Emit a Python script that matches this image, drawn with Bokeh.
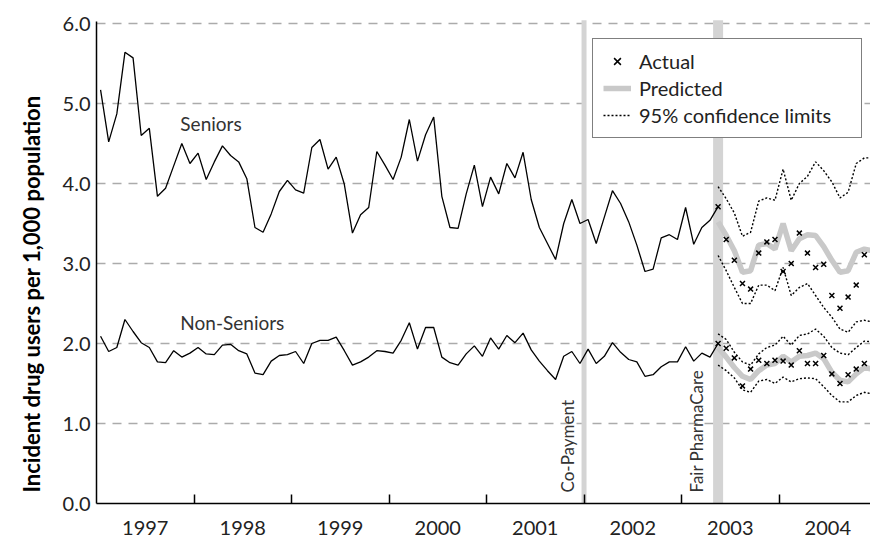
import math
from bokeh.plotting import figure
from bokeh.models import (FixedTicker, PrintfTickFormatter, Legend, LegendItem,
                          Range1d, Label, Title)
from bokeh.embed import file_html
from bokeh.resources import INLINE

FONT = "Lato"

# ---------------- data ----------------
start_year = 1997
year_labels = ["1997", "1998", "1999", "2000", "2001", "2002", "2003", "2004"]

# monthly incident users per 1,000 (Jan 1997 .. May 2003)
seniors = [5.17, 4.52, 4.87, 5.64, 5.57, 4.60, 4.69, 3.84, 3.94, 4.22,
           4.50, 4.25, 4.38, 4.05, 4.27, 4.47, 4.35, 4.27, 4.06, 3.45,
           3.39, 3.62, 3.90, 4.04, 3.92, 3.88, 4.45, 4.55, 4.18, 4.33,
           3.99, 3.38, 3.61, 3.70, 4.40, 4.23, 4.05, 4.33, 4.80, 4.28,
           4.61, 4.83, 3.84, 3.45, 3.44, 3.87, 4.23, 3.71, 4.08, 3.87,
           4.25, 4.07, 4.39, 3.80, 3.45, 3.25, 3.05, 3.50, 3.80, 3.50,
           3.55, 3.25, 3.58, 3.91, 3.75, 3.52, 3.23, 2.90, 2.93, 3.32,
           3.36, 3.30, 3.70, 3.24, 3.45, 3.54, 3.71]
non_seniors = [2.09, 1.90, 1.95, 2.30, 2.15, 2.01, 1.95, 1.77, 1.76, 1.91,
               1.83, 1.88, 1.95, 1.87, 1.86, 1.98, 1.99, 1.91, 1.87, 1.63,
               1.61, 1.78, 1.85, 1.86, 1.90, 1.75, 2.00, 2.04, 2.04, 2.08,
               1.91, 1.73, 1.77, 1.83, 1.91, 1.90, 1.88, 2.04, 2.26, 1.93,
               2.20, 2.20, 1.83, 1.76, 1.73, 1.87, 1.97, 1.84, 2.07, 1.93,
               2.10, 2.01, 2.13, 1.92, 1.78, 1.66, 1.55, 1.84, 1.90, 1.75,
               1.93, 1.75, 1.84, 2.01, 1.89, 1.80, 1.77, 1.59, 1.61, 1.71,
               1.77, 1.77, 1.96, 1.78, 1.88, 1.83, 2.00]

# forecast period starts at month index 76 (May 2003)
forecast_start = 76
sen_actual = [3.71, 3.30, 3.04, 2.75, 2.68, 3.13, 3.27, 3.30, 2.90, 3.00,
              3.38, 3.13, 2.95, 2.99, 2.60, 2.44, 2.58, 2.73, 3.11]
sen_pred = [3.52, 3.35, 3.16, 2.89, 2.91, 3.23, 3.25, 3.18, 3.50, 3.16,
            3.31, 3.36, 3.35, 3.21, 3.04, 2.89, 2.91, 3.14, 3.18, 3.16]
sen_upper = [3.96, 3.81, 3.63, 3.34, 3.39, 3.78, 3.82, 3.79, 4.18, 3.79,
             4.00, 4.09, 4.27, 4.16, 4.02, 3.82, 3.89, 4.25, 4.32, 4.32]
sen_lower = [3.10, 2.91, 2.70, 2.50, 2.50, 2.73, 2.73, 2.66, 2.95, 2.60,
             2.70, 2.75, 2.60, 2.45, 2.33, 2.18, 2.14, 2.27, 2.29, 2.27]

non_actual = [2.00, 1.94, 1.82, 1.47, 1.68, 1.79, 1.75, 1.79, 1.78, 1.73,
              1.91, 1.75, 1.75, 1.85, 1.62, 1.50, 1.61, 1.68, 1.75]
non_pred = [1.95, 1.83, 1.70, 1.59, 1.55, 1.66, 1.73, 1.75, 1.84, 1.77,
            1.84, 1.85, 1.88, 1.81, 1.64, 1.54, 1.52, 1.62, 1.70, 1.68]
non_upper = [2.12, 2.05, 1.89, 1.77, 1.73, 1.87, 1.95, 1.98, 2.09, 1.98,
             2.10, 2.12, 2.18, 2.09, 1.95, 1.88, 1.86, 1.95, 2.03, 2.02]
non_lower = [1.73, 1.66, 1.57, 1.42, 1.39, 1.53, 1.55, 1.50, 1.58, 1.52,
             1.56, 1.57, 1.56, 1.46, 1.35, 1.27, 1.27, 1.35, 1.39, 1.37]

event_names = ["Co-Payment", "Fair PharmaCare"]
event_dates = [2002.0, 2003.375]

y_ticks = [0, 1, 2, 3, 4, 5, 6]
y_title = "Incident drug users per 1,000 population"


def months_x(first, n):
    return [start_year + (first + k + 0.5) / 12.0 for k in range(n)]


# ---------------- figure ----------------
p = figure(width=870, height=542, output_backend="svg", toolbar_location=None,
           x_range=Range1d(1997.0, 2004.938), y_range=Range1d(0, 6.2875),
           min_border_left=96, min_border_right=0, min_border_top=0,
           min_border_bottom=39)
p.outline_line_color = None
p.background_fill_color = "white"
p.xgrid.visible = False
p.ygrid.ticker = FixedTicker(ticks=y_ticks)
p.ygrid.grid_line_color = "#ababab"
p.ygrid.grid_line_width = 1.5
p.ygrid.grid_line_dash = "9 7"

# event bars
p.segment(x0=[event_dates[0]], y0=[0], x1=[event_dates[0]], y1=[6.04],
          line_color="#d4d4d4", line_width=5)
p.segment(x0=[event_dates[1]], y0=[0], x1=[event_dates[1]], y1=[6.04],
          line_color="#d4d4d4", line_width=10)

# history lines
p.line(months_x(0, len(seniors)), seniors, line_color="black", line_width=1.3)
p.line(months_x(0, len(non_seniors)), non_seniors, line_color="black", line_width=1.3)

# predicted
xf = months_x(forecast_start, len(sen_pred))
r_pred = p.line(xf, sen_pred, line_color="#c9c9c9", line_width=5.5)
p.line(xf, non_pred, line_color="#c9c9c9", line_width=5.5)

# confidence limits
r_ci = p.line(xf, sen_upper, line_color="black", line_width=1.4, line_dash="2 2")
p.line(xf, sen_lower, line_color="black", line_width=1.4, line_dash="2 2")
p.line(xf, non_upper, line_color="black", line_width=1.4, line_dash="2 2")
p.line(xf, non_lower, line_color="black", line_width=1.4, line_dash="2 2")

# actual
xa = months_x(forecast_start, len(sen_actual))
r_act = p.scatter(xa, sen_actual, marker="x", size=7, line_color="black", line_width=1.5)
p.scatter(xa, non_actual, marker="x", size=7, line_color="black", line_width=1.5)

# text labels
p.add_layout(Label(x=1997.86, y=4.75, text="Seniors", text_font=FONT,
                   text_font_size="19px", text_color="#333333", text_baseline="middle"))
p.add_layout(Label(x=1997.86, y=2.26, text="Non-Seniors", text_font=FONT,
                   text_font_size="19px", text_color="#333333", text_baseline="middle"))
for name, d, off in zip(event_names, event_dates, [-6, -11]):
    p.add_layout(Label(x=d, y=0, x_offset=off, y_offset=11, text=name,
                       angle=math.pi / 2, text_align="left", text_baseline="bottom",
                       text_font=FONT, text_font_size="17px", text_color="#333333"))

# axes
xa_ = p.xaxis[0]
xa_.ticker = FixedTicker(ticks=[start_year + i + 0.5 for i in range(len(year_labels))],
                         minor_ticks=[start_year + i for i in range(1, len(year_labels))])
xa_.major_label_overrides = {start_year + i + 0.5: lab for i, lab in enumerate(year_labels)}
xa_.major_tick_line_color = None
xa_.major_tick_in = 0
xa_.major_tick_out = 0
xa_.minor_tick_in = 9
xa_.minor_tick_out = 0
xa_.minor_tick_line_color = "black"
xa_.minor_tick_line_width = 1.5
xa_.axis_line_color = "black"
xa_.axis_line_width = 1.5
xa_.major_label_text_font = FONT
xa_.major_label_text_font_size = "20px"
xa_.major_label_text_color = "#222222"
xa_.major_label_standoff = 17

ya = p.yaxis[0]
ya.ticker = FixedTicker(ticks=y_ticks)
ya.formatter = PrintfTickFormatter(format="%.1f")
ya.bounds = (0, 6.02)
ya.major_tick_in = 0
ya.major_tick_out = 0
ya.minor_tick_line_color = None
ya.axis_line_color = "black"
ya.axis_line_width = 1.5
ya.major_label_text_font = FONT
ya.major_label_text_font_size = "20px"
ya.major_label_text_color = "#222222"
ya.major_label_standoff = 6

# y-axis title as a left-side title, anchored near the bottom of the axis
p.add_layout(Title(text=y_title, align="left", offset=11, standoff=29,
                   text_font=FONT, text_font_style="bold", text_font_size="22px",
                   text_color="black"), "left")

legend = Legend(items=[LegendItem(label="Actual", renderers=[r_act]),
                       LegendItem(label="Predicted", renderers=[r_pred]),
                       LegendItem(label="95% confidence limits", renderers=[r_ci])],
                location=(496, 365))
legend.border_line_color = "black"
legend.border_line_width = 1.2
legend.background_fill_color = "white"
legend.background_fill_alpha = 1.0
legend.label_text_font = FONT
legend.label_text_font_size = "20px"
legend.label_text_color = "#222222"
legend.glyph_width = 28
legend.glyph_height = 24
legend.label_height = 24
legend.label_width = 212
legend.spacing = 3
legend.padding = 10
legend.margin = 0
legend.label_standoff = 8
p.add_layout(legend)

open("out.html", "w").write(file_html(p, INLINE))
